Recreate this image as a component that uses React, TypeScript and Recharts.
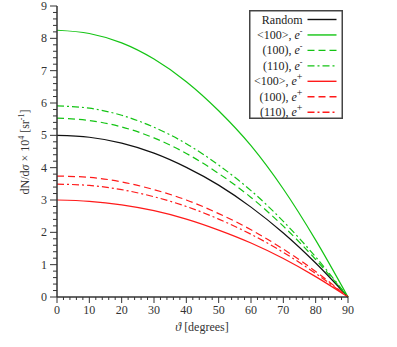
import { Legend, Line, LineChart, XAxis, YAxis } from "recharts";

const theta = [0, 10, 20, 30, 40, 50, 60, 70, 80, 90];
const random = [5.0, 4.94, 4.76, 4.45, 4.01, 3.46, 2.78, 1.98, 1.05, 0];
const ch100eMinus = [8.25, 8.15, 7.86, 7.36, 6.66, 5.76, 4.68, 3.34, 1.76, 0];
const pl100eMinus = [5.53, 5.46, 5.26, 4.92, 4.44, 3.82, 3.08, 2.19, 1.16, 0];
const pl110eMinus = [5.91, 5.84, 5.62, 5.25, 4.74, 4.08, 3.29, 2.34, 1.24, 0];
const ch100ePlus = [3.0, 2.96, 2.85, 2.67, 2.41, 2.07, 1.67, 1.19, 0.63, 0];
const pl100ePlus = [3.74, 3.7, 3.56, 3.32, 3.0, 2.58, 2.08, 1.48, 0.79, 0];
const pl110ePlus = [3.49, 3.45, 3.32, 3.1, 2.8, 2.41, 1.94, 1.38, 0.73, 0];

const xMajor = [0, 10, 20, 30, 40, 50, 60, 70, 80, 90];
const yMajor = [0, 1, 2, 3, 4, 5, 6, 7, 8, 9];
// minor ticks: 5 per x decade, 5 per y unit
const xTicks = xMajor.flatMap((v, i) => (i === 0 ? [v] : [v - 8, v - 6, v - 4, v - 2, v]));
const yTicks = yMajor.flatMap((v, i) => (i === 0 ? [v] : [v - 0.8, v - 0.6, v - 0.4, v - 0.2, v]));

const GREEN = "#14c414";
const RED = "#ff1a1a";
const DASH = "7 4";
const DASHDOT = "7 3 2 3";

const series = [
  { key: "random", values: random, crystal: "Random", charge: "", color: "#111", dash: undefined },
  { key: "c100m", values: ch100eMinus, crystal: "<100>", charge: "-", color: GREEN, dash: undefined },
  { key: "p100m", values: pl100eMinus, crystal: "(100)", charge: "-", color: GREEN, dash: DASH },
  { key: "p110m", values: pl110eMinus, crystal: "(110)", charge: "-", color: GREEN, dash: DASHDOT },
  { key: "c100p", values: ch100ePlus, crystal: "<100>", charge: "+", color: RED, dash: undefined },
  { key: "p100p", values: pl100ePlus, crystal: "(100)", charge: "+", color: RED, dash: DASH },
  { key: "p110p", values: pl110ePlus, crystal: "(110)", charge: "+", color: RED, dash: DASHDOT },
];

const data = theta.map((t, i) => {
  const row: Record<string, number> = { theta: t };
  series.forEach((s) => (row[s.key] = s.values[i]));
  return row;
});

const FONT = "'Liberation Serif', 'Times New Roman', 'DejaVu Serif', serif";
const AXIS = "#333";
const txt = { fontFamily: FONT, fontSize: 12, fill: AXIS };

function XTick(props: any) {
  const { x, y, payload } = props;
  const major = payload.value % 10 === 0;
  return (
    <g>
      <line x1={x} y1={y} x2={x} y2={y + (major ? 6 : 3)} stroke={AXIS} />
      {major && (
        <text x={x} y={y + 17} textAnchor="middle" style={txt}>
          {payload.value}
        </text>
      )}
    </g>
  );
}

function YTick(props: any) {
  const { x, y, payload } = props;
  const major = Math.abs(payload.value - Math.round(payload.value)) < 1e-6;
  return (
    <g>
      <line x1={x} y1={y} x2={x - (major ? 7 : 4)} y2={y} stroke={AXIS} />
      {major && (
        <text x={x - 10} y={y + 4} textAnchor="end" style={txt}>
          {Math.round(payload.value)}
        </text>
      )}
    </g>
  );
}

function YLabel() {
  const cx = 25;
  const cy = 152;
  return (
    <text x={cx} y={cy + 4} textAnchor="middle" transform={`rotate(-90, ${cx}, ${cy})`} style={txt}>
      dN/d<tspan fontStyle="italic">σ</tspan> × 10
      <tspan dy={-5} fontSize={8}>4</tspan>
      <tspan dy={5}>{" [sr"}</tspan>
      <tspan dy={-5} fontSize={8}>-1</tspan>
      <tspan dy={5}>]</tspan>
    </text>
  );
}

function XLabel() {
  return (
    <text x={202} y={331} textAnchor="middle" style={txt}>
      <tspan fontStyle="italic">ϑ</tspan> [degrees]
    </text>
  );
}

function LegendBox() {
  return (
    <svg width={94} height={109} style={{ display: "block" }}>
      <rect x={0.75} y={0.75} width={92.5} height={107.5} fill="#fff" stroke="#444" strokeWidth={1.5} />
      {series.map((s, i) => {
        const cy = 9.5 + i * 15.45;
        return (
          <g key={s.key}>
            <text x={53.5} y={cy + 4} textAnchor="end" style={{ ...txt, fill: "#222" }}>
              {s.charge === "" ? (
                s.crystal
              ) : (
                <>
                  {s.crystal + ", "}
                  <tspan fontStyle="italic">e</tspan>
                  <tspan dy={-5} fontSize={s.charge === "+" ? 10 : 8}>
                    {s.charge}
                  </tspan>
                </>
              )}
            </text>
            <line x1={58.5} x2={87.5} y1={cy} y2={cy} stroke={s.color} strokeWidth={1.4} strokeDasharray={s.dash} />
          </g>
        );
      })}
    </svg>
  );
}

export default function App() {
  return (
    <div style={{ position: "absolute", left: 0, top: 0, width: 397, height: 347, background: "#fff" }}>
      <LineChart width={397} height={347} data={data} margin={{ top: 6, right: 49, bottom: 20, left: 7 }}>
        <XAxis
          dataKey="theta"
          type="number"
          domain={[0, 90]}
          ticks={xTicks}
          interval={0}
          tick={<XTick />}
          tickSize={0}
          tickMargin={0}
          tickLine={false}
          axisLine={{ stroke: AXIS, strokeWidth: 1.5 }}
          height={30}
          label={<XLabel />}
        />
        <XAxis
          xAxisId="top"
          orientation="top"
          type="number"
          domain={[0, 90]}
          tick={false}
          tickLine={false}
          height={0}
          axisLine={{ stroke: AXIS, strokeWidth: 1.5 }}
        />
        <YAxis
          type="number"
          domain={[0, 9]}
          ticks={yTicks}
          interval={0}
          tick={<YTick />}
          tickSize={0}
          tickMargin={0}
          tickLine={false}
          axisLine={{ stroke: AXIS, strokeWidth: 1.5 }}
          width={50}
          label={<YLabel />}
        />
        <YAxis
          yAxisId="right"
          orientation="right"
          type="number"
          domain={[0, 9]}
          tick={false}
          tickLine={false}
          width={0}
          axisLine={{ stroke: AXIS, strokeWidth: 1.5 }}
        />
        {series.map((s) => (
          <Line
            key={s.key}
            dataKey={s.key}
            type="monotone"
            stroke={s.color}
            strokeWidth={1.2}
            strokeDasharray={s.dash}
            dot={false}
            activeDot={false}
            isAnimationActive={false}
          />
        ))}
        <Legend
          layout="horizontal"
          verticalAlign="middle"
          align="center"
          wrapperStyle={{ position: "absolute", top: 10, left: 249, width: 94, height: 109 }}
          content={() => <LegendBox />}
        />
      </LineChart>
    </div>
  );
}
